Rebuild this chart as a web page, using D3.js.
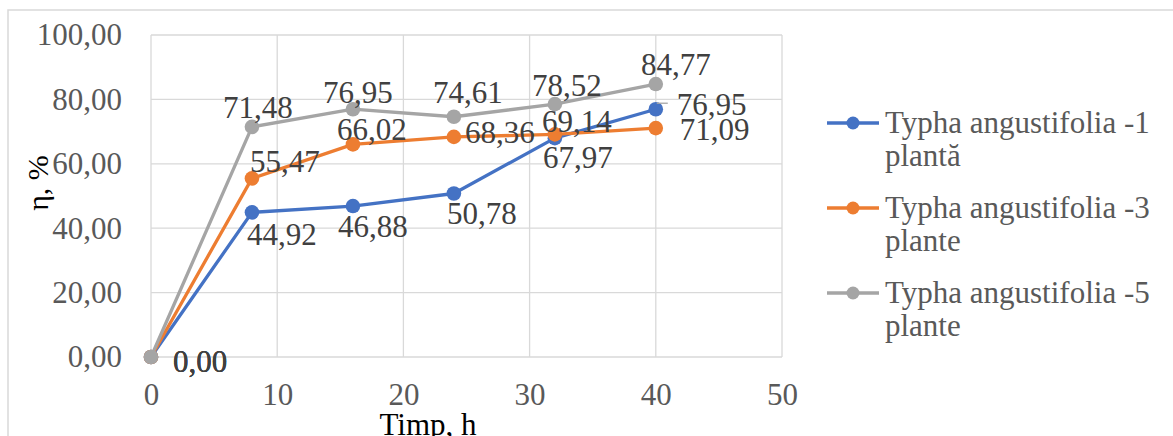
<!DOCTYPE html>
<html>
<head>
<meta charset="utf-8">
<script src="https://cdn.jsdelivr.net/npm/d3@7"></script>
<style>
  html, body { margin: 0; padding: 0; background: #fff; }
  svg { display: block; }
  svg text { font-family: "Liberation Serif", "Times New Roman", serif !important; }
</style>
</head>
<body>
<svg id="chart" width="1173" height="436"></svg>
<script>
// Removal efficiency over time for Typha angustifolia systems
const times = [0, 8, 16, 24, 32, 40];
const onePlant = [0, 44.92, 46.88, 50.78, 67.97, 76.95];
const threePlants = [0, 55.47, 66.02, 68.36, 69.14, 71.09];
const fivePlants = [0, 71.48, 76.95, 74.61, 78.52, 84.77];
const seriesNames = [
  ["Typha angustifolia -1", "plantă"],
  ["Typha angustifolia -3", "plante"],
  ["Typha angustifolia -5", "plante"]
];
const xTicks = [0, 10, 20, 30, 40, 50];
const yTicks = [0, 20, 40, 60, 80, 100];

const colors = ["#4472C4", "#ED7D31", "#A5A5A5"];
const seriesValues = [onePlant, threePlants, fivePlants];

// Label placement relative to each point: [dx, dy, anchor]
const labelLayout = [
  [[22, 15, "start"], [30, 33, "middle"], [20, 31, "middle"], [28, 31, "middle"], [23, 30, "middle"], [21, 6, "start"]],
  [[22, 15, "start"], [33, -6, "middle"], [19, -4, "middle"], [11, 6, "start"], [22, -2, "middle"], [24, 12, "start"]],
  [[22, 15, "start"], [6, -9, "middle"], [5, -6, "middle"], [14, -14, "middle"], [12, -8, "middle"], [20, -9, "middle"]]
];

const svg = d3.select("#chart");
const fmt = v => d3.format(".2f")(v).replace(".", ",");

// Outer chart frame
svg.append("rect")
  .attr("x", 8).attr("y", 10).attr("width", 1180).attr("height", 440)
  .attr("fill", "none").attr("stroke", "#d9d9d9").attr("stroke-width", 1.5);

const x = d3.scaleLinear().domain([0, 50]).range([151, 782]);
const y = d3.scaleLinear().domain([0, 100]).range([357, 35]);

// Gridlines
const grid = svg.append("g").attr("stroke", "#d9d9d9").attr("stroke-width", 1.3);
grid.selectAll("line.h").data(yTicks).join("line")
  .attr("x1", x(0)).attr("x2", x(50))
  .attr("y1", d => y(d)).attr("y2", d => y(d));
grid.selectAll("line.v").data(xTicks).join("line")
  .attr("y1", y(0)).attr("y2", y(100))
  .attr("x1", d => x(d)).attr("x2", d => x(d));

// Axes built with d3 axis generators, styled without domain/tick lines
const yAxis = svg.append("g")
  .attr("transform", `translate(${x(0)},0)`)
  .call(d3.axisLeft(y).tickValues(yTicks).tickFormat(fmt).tickSize(0).tickPadding(29));
const xAxis = svg.append("g")
  .attr("transform", `translate(0,${y(0)})`)
  .call(d3.axisBottom(x).tickValues(xTicks).tickFormat(d3.format("d")).tickSize(0).tickPadding(26));
[yAxis, xAxis].forEach(a => {
  a.select(".domain").remove();
  a.selectAll("text").attr("font-size", 31).attr("fill", "#595959");
});

// Axis titles
svg.append("text")
  .attr("x", 428).attr("y", 435)
  .attr("text-anchor", "middle").attr("font-size", 31).attr("fill", "#000")
  .text("Timp, h");
svg.append("text")
  .attr("transform", "translate(48,183) rotate(-90)")
  .attr("text-anchor", "middle").attr("font-size", 30).attr("fill", "#000")
  .text("η, %");

// Lines and markers
const line = d3.line().x((d, i) => x(times[i])).y(d => y(d));
seriesValues.forEach((vals, s) => {
  const g = svg.append("g");
  g.append("path")
    .attr("d", line(vals))
    .attr("fill", "none").attr("stroke", colors[s]).attr("stroke-width", 3.3)
    .attr("stroke-linejoin", "round").attr("stroke-linecap", "round");
  g.selectAll("circle").data(vals).join("circle")
    .attr("cx", (d, i) => x(times[i])).attr("cy", d => y(d))
    .attr("r", 7.3).attr("fill", colors[s]);
});

// Leader line for the last point of the first series
svg.append("path")
  .attr("d", `M${x(times[5]) + 1},${y(onePlant[5]) - 6}H${x(times[5]) + 12}`)
  .attr("stroke", "#a6a6a6").attr("stroke-width", 1.3).attr("fill", "none");

// Data labels
seriesValues.forEach((vals, s) => {
  svg.append("g").selectAll("text").data(vals).join("text")
    .attr("x", (d, i) => x(times[i]) + labelLayout[s][i][0])
    .attr("y", (d, i) => y(d) + labelLayout[s][i][1])
    .attr("text-anchor", (d, i) => labelLayout[s][i][2])
    .attr("font-size", 31).attr("fill", "#404040")
    .text(d => fmt(d));
});

// Legend
const legend = svg.append("g");
seriesNames.forEach((name, s) => {
  const cy = 123 + s * 85;
  legend.append("line")
    .attr("x1", 827).attr("x2", 879).attr("y1", cy).attr("y2", cy)
    .attr("stroke", colors[s]).attr("stroke-width", 3.3);
  legend.append("circle")
    .attr("cx", 853).attr("cy", cy).attr("r", 6.5).attr("fill", colors[s]);
  const t = legend.append("text")
    .attr("x", 885).attr("y", cy + 10)
    .attr("font-size", 31).attr("fill", "#595959");
  t.append("tspan").attr("x", 885).text(name[0]);
  t.append("tspan").attr("x", 885).attr("dy", 33).text(name[1]);
});
</script>
</body>
</html>
